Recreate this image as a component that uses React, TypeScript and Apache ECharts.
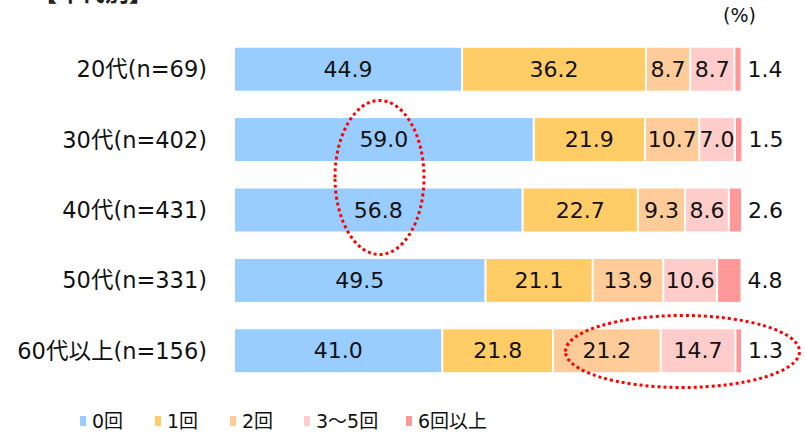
import React, { useEffect, useRef } from "react";
import * as echarts from "echarts";

const categories = ["20代(n=69)", "30代(n=402)", "40代(n=431)", "50代(n=331)", "60代以上(n=156)"];
const seriesNames = ["0回", "1回", "2回", "3～5回", "6回以上"];
const s0 = [44.9, 59.0, 56.8, 49.5, 41.0];
const s1 = [36.2, 21.9, 22.7, 21.1, 21.8];
const s2 = [8.7, 10.7, 9.3, 13.9, 21.2];
const s3 = [8.7, 7.0, 8.6, 10.6, 14.7];
const s4 = [1.4, 1.5, 2.6, 4.8, 1.3];
const colors = ["#99CCFF", "#FFCC66", "#FFCC99", "#FFCCCC", "#FF9999"];
const legendLefts = [73, 148, 223, 297, 399];

const FONT = "'DejaVu Sans', 'Noto Sans CJK JP', sans-serif";

export default function App() {
  const ref = useRef<HTMLDivElement>(null);
  useEffect(() => {
    if (!ref.current) return;
    const chart = echarts.init(ref.current, null, { renderer: "svg" });
    const all = [s0, s1, s2, s3, s4];
    const series = all.map((d, i) => ({
      name: seriesNames[i],
      type: "bar",
      stack: "total",
      barWidth: 45,
      data: d,
      itemStyle: { color: colors[i], borderColor: "#ffffff", borderWidth: 1 },
      label: {
        show: true,
        position: i === 4 ? "right" : "inside",
        distance: 6,
        color: "#111",
        fontSize: 22,
        fontFamily: FONT,
        formatter: (p: any) => Number(p.value).toFixed(1),
      },
    }));
    const legends = seriesNames.map((n, i) => ({
      data: [n],
      left: legendLefts[i],
      top: 405,
      icon: "rect",
      itemWidth: 8,
      itemHeight: 12,
      itemGap: 0,
      textStyle: { fontSize: 19, fontFamily: FONT, color: "#111", lineHeight: 22 },
    }));
    chart.setOption({
      animation: false,
      color: colors,
      textStyle: { fontFamily: FONT },
      grid: { left: 234, right: 64, top: 34, height: 352 },
      xAxis: {
        type: "value",
        min: 0,
        max: 100,
        show: false,
      },
      yAxis: {
        type: "category",
        data: categories,
        inverse: true,
        axisLine: { show: false },
        axisTick: { show: false },
        axisLabel: { fontSize: 22.5, color: "#111", margin: 27, fontFamily: FONT },
      },
      legend: legends,
      series,
      graphic: [
        {
          type: "text",
          left: 33,
          top: -19,
          style: { text: "【年代別】", fontSize: 24, fontWeight: "bold", fill: "#222", fontFamily: FONT },
        },
        {
          type: "text",
          left: 723,
          top: 5,
          style: { text: "(%)", fontSize: 19, fill: "#111", fontFamily: FONT },
        },
        {
          type: "ellipse",
          shape: { cx: 379.5, cy: 177.5, rx: 44.5, ry: 77 },
          style: { fill: "none", stroke: "#FF0000", lineWidth: 3, lineDash: [3, 3] },
          z: 100,
        },
        {
          type: "ellipse",
          shape: { cx: 682.5, cy: 351.5, rx: 117, ry: 36 },
          style: { fill: "none", stroke: "#FF0000", lineWidth: 3, lineDash: [3, 3] },
          z: 100,
        },
      ],
    });
    return () => chart.dispose();
  }, []);
  return (
    <div
      ref={ref}
      style={{ position: "fixed", left: 0, top: 0, width: 806, height: 433, background: "#fff" }}
    />
  );
}
